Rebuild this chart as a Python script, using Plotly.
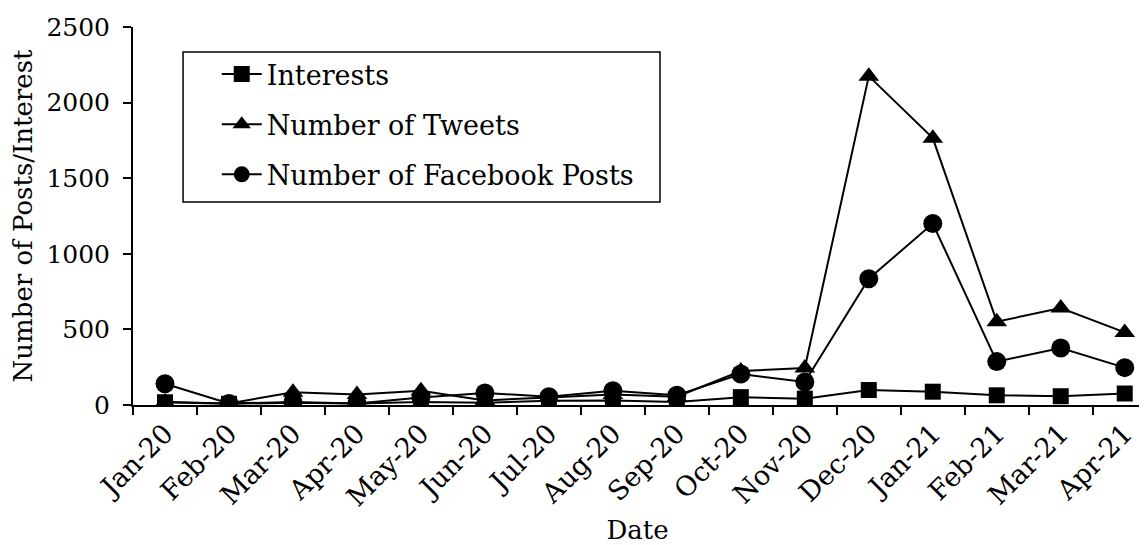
import plotly.graph_objects as go

months = ["Jan-20", "Feb-20", "Mar-20", "Apr-20", "May-20", "Jun-20", "Jul-20", "Aug-20",
          "Sep-20", "Oct-20", "Nov-20", "Dec-20", "Jan-21", "Feb-21", "Mar-21", "Apr-21"]
interests = [18, 8, 15, 10, 20, 15, 28, 30, 20, 52, 42, 99, 88, 64, 58, 76]
tweets = [20, 10, 85, 70, 95, 30, 50, 70, 55, 225, 245, 2175, 1765, 551, 641, 480]
facebook = [140, 10, 20, 10, 50, 80, 55, 95, 65, 205, 152, 835, 1200, 287, 377, 247]

FONT = "DejaVu Serif"

fig = go.Figure()
series = [
    ("Interests", interests, "square", 16),
    ("Number of Tweets", tweets, "triangle-up", 18),
    ("Number of Facebook Posts", facebook, "circle", 19),
]
for i, (name, vals, sym, sz) in enumerate(series):
    fig.add_trace(go.Scatter(
        x=months, y=vals, name=name, mode="lines+markers",
        legendgroup=f"g{i}",
        line=dict(color="black", width=2),
        marker=dict(symbol=sym, size=sz, color="black"),
    ))

# legend frame drawn as a shape so the entries can sit with wider padding
fig.add_shape(type="rect", xref="paper", yref="paper",
              x0=0.0496, x1=0.5223, y0=0.537, y1=0.934,
              line=dict(color="black", width=1.5), fillcolor="rgba(0,0,0,0)",
              layer="above")

fig.update_layout(
    width=1139, height=537,
    margin=dict(l=125, r=5, t=19, b=140),
    paper_bgcolor="white", plot_bgcolor="white",
    font=dict(family=FONT, size=24, color="black"),
    showlegend=True,
    legend=dict(
        x=0.083, y=0.939, xanchor="left", yanchor="top",
        borderwidth=0, bgcolor="rgba(0,0,0,0)",
        font=dict(family=FONT, size=27, color="black"),
        traceorder="grouped", tracegroupgap=12,
        itemwidth=40,
    ),
    xaxis=dict(
        type="category", range=[-0.5, 15.27], automargin=False,
        showline=True, linecolor="black", linewidth=2,
        ticks="outside", tickson="boundaries", ticklen=8, tickwidth=2, tickcolor="black",
        tickangle=-45, showgrid=False,
        title=dict(text="Date", font=dict(family=FONT, size=26), standoff=18),
        tickfont=dict(family=FONT, size=27),
    ),
    yaxis=dict(
        range=[0, 2500], dtick=500, automargin=False,
        showline=True, linecolor="black", linewidth=2,
        ticks="outside", ticklen=8, tickwidth=2, tickcolor="black",
        ticklabelstandoff=8,
        showgrid=False, zeroline=False,
        title=dict(text="Number of Posts/Interest", font=dict(family=FONT, size=26), standoff=8),
        tickfont=dict(family=FONT, size=25),
    ),
)

fig.write_html("out.html")
